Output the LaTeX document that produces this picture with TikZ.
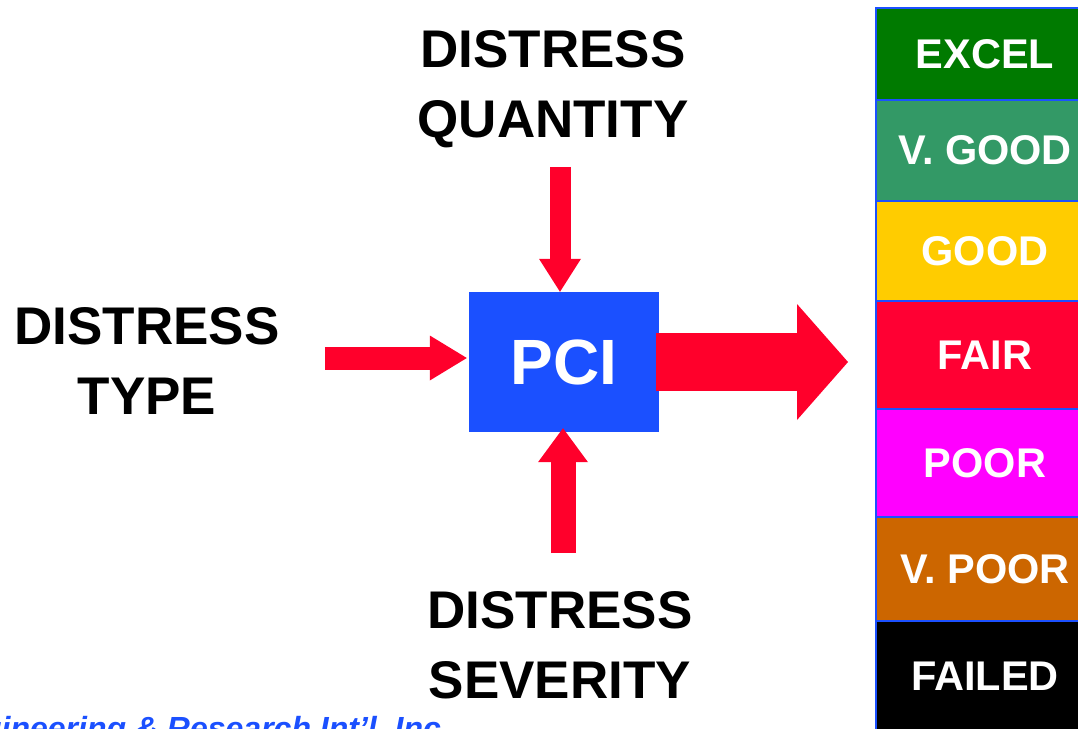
\documentclass[tikz,border=0pt]{standalone}
\usepackage{fontspec}
\setmainfont{Liberation Sans}
\usepackage{tikz}
\definecolor{pciblue}{HTML}{1B50FF}
\definecolor{arrowred}{HTML}{FF002B}
\definecolor{excelgreen}{HTML}{007A00}
\definecolor{vgoodgreen}{HTML}{339966}
\definecolor{goodyellow}{HTML}{FFCC00}
\definecolor{fairred}{HTML}{FF0033}
\definecolor{poormagenta}{HTML}{FF00FF}
\definecolor{vpoororange}{HTML}{CC6600}
\usetikzlibrary{arrows.meta}

\begin{document}
\begin{tikzpicture}[x=1pt,y=-1pt,
    inputlbl/.style={align=center,anchor=north,inner sep=0pt,font=\fontsize{53}{70}\selectfont\bfseries},
    redarrow/.style={arrowred,line width=#1},
    ratebox/.style={draw=pciblue,line width=1.5pt,minimum width=218pt,inner sep=0pt,text=white,font=\fontsize{41.5}{41.5}\selectfont\bfseries}]
        \useasboundingbox (0,0) rectangle (1078,728);
        % inputs
        \node[inputlbl] (quantity) at (553,30) {DISTRESS\\QUANTITY};
        \node[inputlbl] (type) at (147,307) {DISTRESS\\TYPE};
        \node[inputlbl] (severity) at (560,591) {DISTRESS\\SEVERITY};
        \node[fill=pciblue,text=white,minimum width=190pt,minimum height=140pt,inner sep=0pt,font=\fontsize{64}{64}\selectfont\bfseries] (pci) at (564,362) {PCI};
        \draw[redarrow=23pt,-{Triangle[width=45pt,length=37pt,line width=0pt]}] ([xshift=-144pt,yshift=4pt]pci.west) -- ([xshift=-2pt,yshift=4pt]pci.west);
        \draw[redarrow=21pt,-{Triangle[width=42pt,length=33pt,line width=0pt]}] ([xshift=-4pt,yshift=125pt]pci.north) -- ([xshift=-4pt]pci.north);
        \draw[redarrow=25pt,-{Triangle[width=50pt,length=34pt,line width=0pt]}] ([xshift=-1pt,yshift=-121pt]pci.south) -- ([xshift=-1pt,yshift=4pt]pci.south);
        \coordinate (outtip) at (848,362);
        \draw[redarrow=58pt,-{Triangle[width=116pt,length=51pt,line width=0pt]}] ([xshift=-3pt]pci.east) -- (outtip);
        % rating scale
        \node[ratebox,fill=excelgreen,minimum height=92pt] (excel) at (985,54) {EXCEL};
        \node[ratebox,fill=vgoodgreen,minimum height=101pt] (vgood) at (985,150.5) {V. GOOD};
        \node[ratebox,fill=goodyellow,minimum height=100pt] (good) at (985,251) {GOOD};
        \node[ratebox,fill=fairred,minimum height=108pt] (fair) at (985,355) {FAIR};
        \node[ratebox,fill=poormagenta,minimum height=108pt] (poor) at (985,463) {POOR};
        \node[ratebox,fill=vpoororange,minimum height=104pt] (vpoor) at (985,569) {V. POOR};
        \node[ratebox,fill=black,minimum height=110pt] (failed) at (985,676) {FAILED};
        % footer
        \node[anchor=base west,inner sep=0pt,text=pciblue,font=\fontsize{32}{32}\selectfont\bfseries\itshape] (firm) at (-59,739) {Engineering \& Research Int’l, Inc.};
      \end{tikzpicture}
\end{document}
